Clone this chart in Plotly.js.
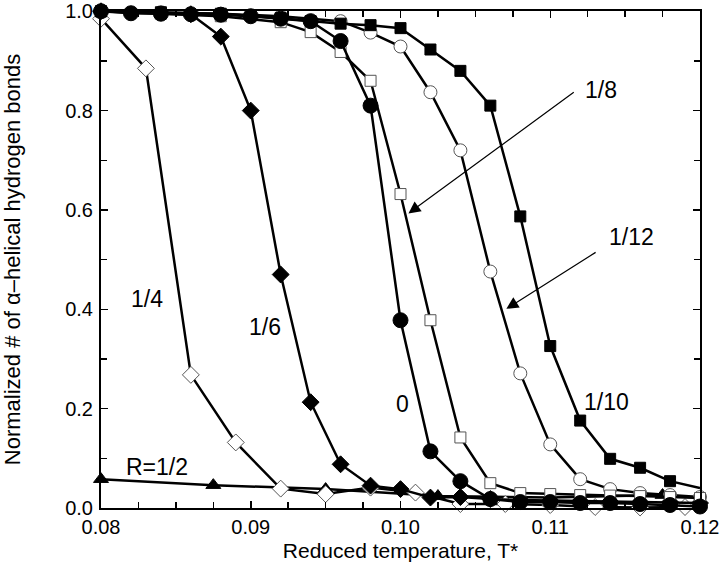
<!DOCTYPE html>
<html>
<head>
<meta charset="utf-8">
<script src="https://cdn.plot.ly/plotly-3.0.1.min.js"></script>
<style>
  html, body { margin: 0; padding: 0; background: #ffffff; }
  #chart { width: 720px; height: 565px; }
</style>
</head>
<body>
<div id="chart"></div>
<script>
// Reduced temperature T* per series
const tQuarter = [0.080, 0.083, 0.086, 0.089, 0.092, 0.095, 0.098, 0.101, 0.104, 0.107, 0.110, 0.113, 0.116, 0.119];
const hQuarter = [0.985, 0.885, 0.268, 0.132, 0.039, 0.028, 0.041, 0.031, 0.008, 0.008, 0.006, 0.002, 0.001, 0.002];

const tSixth = [0.080, 0.086, 0.088, 0.090, 0.092, 0.094, 0.096, 0.098, 0.100, 0.102, 0.104, 0.106, 0.108, 0.110, 0.112, 0.114, 0.116, 0.118, 0.120];
const hSixth = [1.0, 0.994, 0.949, 0.800, 0.470, 0.213, 0.088, 0.045, 0.038, 0.021, 0.022, 0.018, 0.016, 0.015, 0.014, 0.013, 0.012, 0.012, 0.010];

const tZero = [0.080, 0.082, 0.084, 0.086, 0.088, 0.090, 0.092, 0.094, 0.096, 0.098, 0.100, 0.102, 0.104, 0.106, 0.108, 0.110, 0.112, 0.114, 0.116, 0.118, 0.120];
const hZero = [1.0, 0.996, 0.995, 0.994, 0.993, 0.990, 0.985, 0.980, 0.940, 0.810, 0.378, 0.114, 0.054, 0.018, 0.012, 0.012, 0.010, 0.010, 0.008, 0.006, 0.003];

const tEighth = [0.080, 0.084, 0.088, 0.092, 0.094, 0.096, 0.098, 0.100, 0.102, 0.104, 0.106, 0.108, 0.110, 0.112, 0.114, 0.116, 0.118, 0.120];
const hEighth = [1.0, 0.995, 0.990, 0.978, 0.958, 0.918, 0.860, 0.632, 0.378, 0.142, 0.050, 0.030, 0.028, 0.026, 0.025, 0.024, 0.022, 0.020];

const tTenth = [0.080, 0.084, 0.088, 0.092, 0.094, 0.096, 0.098, 0.100, 0.102, 0.104, 0.106, 0.108, 0.110, 0.112, 0.114, 0.116, 0.118, 0.120];
const hTenth = [1.0, 0.998, 0.995, 0.986, 0.980, 0.975, 0.972, 0.966, 0.923, 0.880, 0.810, 0.587, 0.326, 0.176, 0.099, 0.081, 0.054, 0.040];

const tTwelfth = [0.080, 0.084, 0.088, 0.092, 0.096, 0.098, 0.100, 0.102, 0.104, 0.106, 0.108, 0.110, 0.112, 0.114, 0.116, 0.118, 0.120];
const hTwelfth = [1.0, 0.998, 0.995, 0.990, 0.980, 0.957, 0.929, 0.837, 0.720, 0.476, 0.271, 0.128, 0.058, 0.038, 0.030, 0.026, 0.022];

const tHalf = [0.080, 0.0875, 0.095, 0.1025, 0.110, 0.1175];
const hHalf = [0.058, 0.046, 0.038, 0.024, 0.021, 0.026];

// Curve labels: text, x, y
const labelText = ['1/4', '1/6', '0', '1/10', 'R=1/2', '1/8', '1/12'];
const labelX = [0.08307, 0.09093, 0.10013, 0.11373, 0.08373, 0.11340, 0.11540];
const labelY = [0.420, 0.364, 0.210, 0.214, 0.082, 0.841, 0.545];

// Arrows: tip (x, y) and tail (ax, ay)
const arrowX = [0.10053, 0.10707];
const arrowY = [0.593, 0.401];
const arrowAX = [0.11167, 0.11313];
const arrowAY = [0.839, 0.5165];

const FONT = 'Liberation Sans, Arial, Helvetica, sans-serif';
const LINE = { color: '#000000', width: 2.5 };
const OPEN = { color: '#555555', width: 1 };

function series(x, y, symbol, size, filled) {
  return {
    type: 'scatter',
    x: x, y: y,
    mode: 'lines+markers',
    line: LINE,
    cliponaxis: false,
    marker: {
      symbol: symbol,
      size: size,
      color: filled ? '#000000' : '#ffffff',
      opacity: 1,
      line: filled ? { color: '#000000', width: 1 } : OPEN,
    },
    hoverinfo: 'skip',
    showlegend: false,
  };
}

const traces = [
  series(tHalf, hHalf, 'triangle-up', 13, true),
  series(tQuarter, hQuarter, 'diamond', 13, false),
  series(tSixth, hSixth, 'diamond', 13, true),
  series(tTwelfth, hTwelfth, 'circle', 13, false),
  series(tEighth, hEighth, 'square', 11, false),
  series(tTenth, hTenth, 'square', 11, true),
  series(tZero, hZero, 'circle', 15, true),
];
// the 1/10 curve runs off the frame with no marker at its end
traces[5].marker.size = tTenth.map((t) => (t < 0.1195 ? 11 : 0));

const annotations = labelText.map((txt, i) => ({
  x: labelX[i], y: labelY[i], xref: 'x', yref: 'y',
  text: txt, showarrow: false,
  xanchor: 'center', yanchor: 'middle',
  font: { family: FONT, size: 23, color: '#000000' },
}));

arrowX.forEach((x, i) => {
  annotations.push({
    x: x, y: arrowY[i], xref: 'x', yref: 'y',
    ax: arrowAX[i], ay: arrowAY[i], axref: 'x', ayref: 'y',
    text: '', showarrow: true,
    arrowhead: 2, arrowsize: 2, arrowwidth: 1.2, arrowcolor: '#000000',
  });
});

const axisStyle = {
  showgrid: false,
  zeroline: false,
  showline: true,
  linecolor: '#000000',
  linewidth: 2,
  mirror: 'ticks',
  ticks: 'inside',
  ticklen: 7,
  tickwidth: 1.5,
  tickcolor: '#000000',
  ticklabeloverflow: 'allow',
  tickfont: { family: FONT, size: 20, color: '#000000' },
};

const layout = {
  width: 720,
  height: 565,
  paper_bgcolor: '#ffffff',
  plot_bgcolor: '#ffffff',
  margin: { t: 11, r: 20, b: 57, l: 101 },
  font: { family: FONT, color: '#000000' },
  xaxis: {
    ...axisStyle,
    range: [0.08, 0.12],
    dtick: 0.01,
    tick0: 0.08,
    tickformat: '.2f',
    minor: { dtick: 0.0025, ticks: 'inside', ticklen: 6, tickwidth: 1.5, tickcolor: '#000000' },
    title: { text: 'Reduced temperature, T*', font: { family: FONT, size: 21 }, standoff: 6 },
  },
  yaxis: {
    ...axisStyle,
    range: [0, 1.0005],
    dtick: 0.2,
    tickformat: '.1f',
    ticklabelstandoff: 2,
    minor: { dtick: 0.1, ticks: 'inside', ticklen: 6, tickwidth: 1.5, tickcolor: '#000000' },
    title: { text: 'Normalized # of α–helical hydrogen bonds', font: { family: FONT, size: 22 }, standoff: 42 },
  },
  annotations: annotations,
};

Plotly.newPlot('chart', traces, layout, { displayModeBar: false, staticPlot: true });
</script>
</body>
</html>
